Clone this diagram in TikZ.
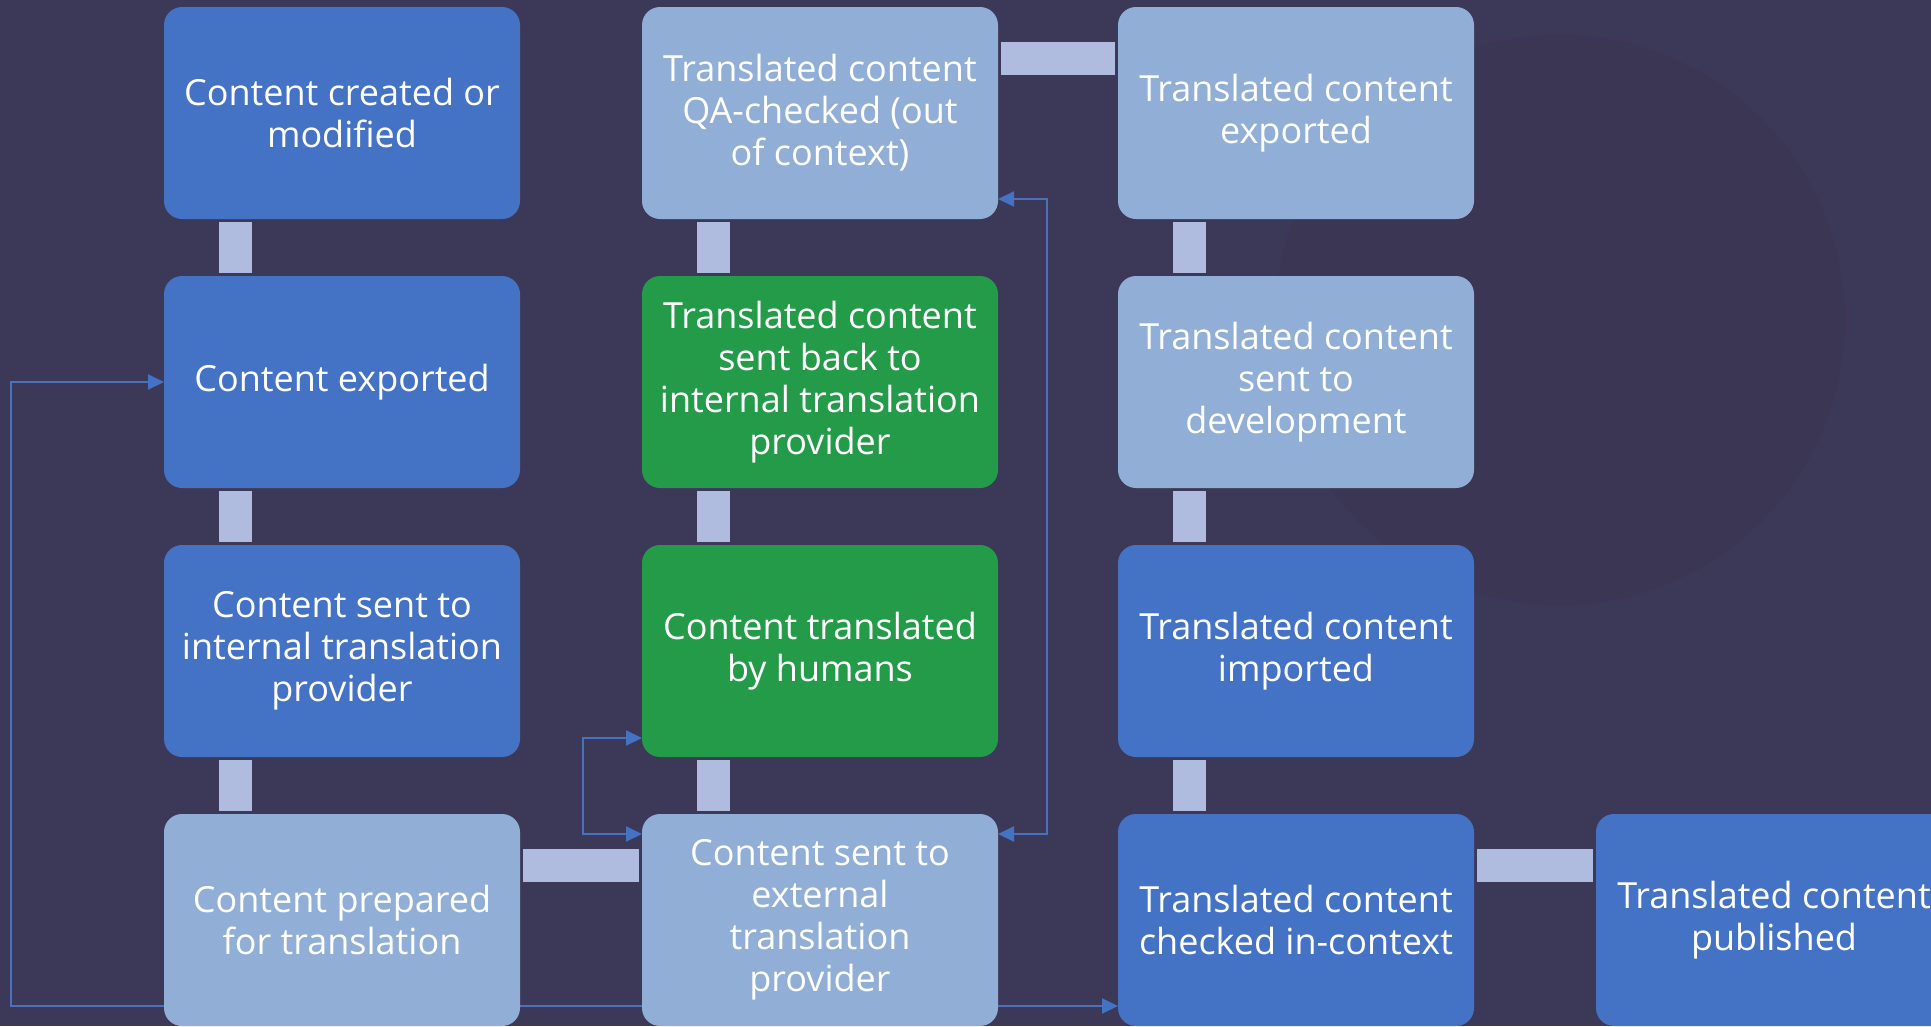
\documentclass[tikz,border=0pt]{standalone}
\usepackage{fontspec}
\setmainfont{Open Sans}
\usetikzlibrary{arrows.meta}
\definecolor{bgcol}{HTML}{3C3857}
\definecolor{disccol}{HTML}{3A3654}
\definecolor{darkblue}{HTML}{4472C4}
\definecolor{lightblue}{HTML}{90AED6}
\definecolor{greenbox}{HTML}{249B48}
\definecolor{barcol}{HTML}{AFBCDF}
\definecolor{linkcol}{HTML}{4472C4}
\pgfdeclarelayer{back}
\pgfdeclarelayer{links}
\pgfsetlayers{back,links,main}
\begin{document}
\begin{tikzpicture}[x=1pt,y=-1pt,
  box/.style={rounded corners=18pt, minimum width=356pt, minimum height=212pt,
    text=white, align=center, font=\fontsize{36}{42}\selectfont,
    inner sep=0pt, outer sep=0pt, anchor=north west},
  dark/.style={box, fill=darkblue},
  light/.style={box, fill=lightblue},
  green/.style={box, fill=greenbox},
  bar/.style={draw=barcol, line width=33pt, shorten <=3pt, shorten >=3pt},
  link/.style={draw=linkcol, line width=2pt},
  tip/.tip={Triangle[length=16pt, width=15pt]}
]
\useasboundingbox (0,0) rectangle (1931,1026);
\begin{pgfonlayer}{back}
  \fill[bgcol] (0,0) rectangle (1931,1026);
  \fill[disccol] (1560,320) circle (285);
\end{pgfonlayer}

% column 1
\node[dark]  (c1r1) at (164,7)   {Content created or\\modified};
\node[dark]  (c1r2) at (164,276) {Content exported};
\node[dark]  (c1r3) at (164,545) {Content sent to\\internal translation\\provider};
\node[light] (c1r4) at (164,814) {Content prepared\\for translation};
% column 2
\node[light] (c2r1) at (642,7)   {Translated content\\QA-checked (out\\of context)};
\node[green] (c2r2) at (642,276) {Translated content\\sent back to\\internal translation\\provider};
\node[green] (c2r3) at (642,545) {Content translated\\by humans};
\node[light] (c2r4) at (642,814) {Content sent to\\external\\translation\\provider};
% column 3
\node[light] (c3r1) at (1118,7)   {Translated content\\exported};
\node[light] (c3r2) at (1118,276) {Translated content\\sent to\\development};
\node[dark]  (c3r3) at (1118,545) {Translated content\\imported};
\node[dark]  (c3r4) at (1118,814) {Translated content\\checked in-context};
% column 4
\node[dark]  (c4r4) at (1596,814) {Translated content\\published};

% process bars
\foreach \a/\b in {c1r1/c1r2, c1r2/c1r3, c1r3/c1r4,
                   c2r1/c2r2, c2r2/c2r3, c2r3/c2r4,
                   c3r1/c3r2, c3r2/c3r3, c3r3/c3r4}
  \draw[bar] ([xshift=71.5pt]\a.south west) -- ([xshift=71.5pt]\b.north west);
\draw[bar] ([yshift=-51.5pt]c1r4.north east) -- ([yshift=-51.5pt]c2r4.north west);
\draw[bar] ([yshift=-51.5pt]c2r1.north east) -- ([yshift=-51.5pt]c3r1.north west);
\draw[bar] ([yshift=-51.5pt]c3r4.north east) -- ([yshift=-51.5pt]c4r4.north west);

% feedback connectors
\begin{pgfonlayer}{links}
  \draw[link, -tip] ([yshift=20pt]c2r4.south west) -| ([xshift=-153pt]c1r2.west) -- (c1r2.west);
  \draw[link, -tip] ([yshift=20pt]c2r4.south east) -- ([yshift=20pt]c3r4.south west);
  \draw[link, tip-tip] ([yshift=19pt]c2r3.south west) -- ++(-59,0) |- ([yshift=-20pt]c2r4.north west);
  \draw[link, tip-tip] ([yshift=20pt]c2r1.south east) -- ++(49,0) |- ([yshift=-20pt]c2r4.north east);
\end{pgfonlayer}
\end{tikzpicture}
\end{document}
